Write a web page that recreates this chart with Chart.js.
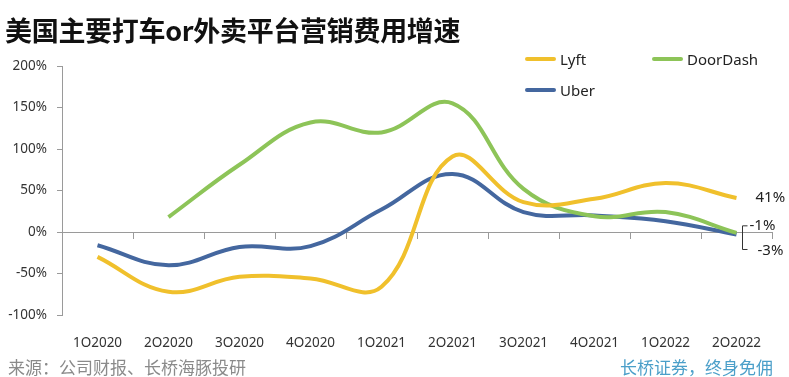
<!DOCTYPE html>
<html>
<head>
<meta charset="utf-8">
<script src="https://cdn.jsdelivr.net/npm/chart.js@4"></script>
<style>
    body { margin: 0; background: #fff; }
    #wrap { position: relative; width: 789px; height: 377px; overflow: hidden; font-family: "Noto Sans", "Noto Sans CJK SC", sans-serif; }
    #wrap canvas { position: absolute; left: 0; top: 0; }
    .title { position: absolute; left: 5px; top: 10px; font-size: 27px; font-weight: 700; color: #111; font-family: "Noto Sans CJK SC", sans-serif; letter-spacing: -0.3px; }
    .legend { position: absolute; font-size: 15px; color: #222; display: flex; align-items: center; }
    .legend i { display: inline-block; width: 31px; height: 4px; border-radius: 2px; margin-right: 4px; }
    .foot { position: absolute; top: 354px; font-size: 17px; font-family: "Noto Sans CJK SC", sans-serif; }
</style>
</head>
<body>
<div id="wrap">
    <canvas id="chart" width="789" height="377"></canvas>
    <div class="title">美国主要打车or外卖平台营销费用增速</div>
    <div class="legend" style="left:525px; top:49px;"><i style="background:#f0c02c"></i>Lyft</div>
    <div class="legend" style="left:652px; top:49px;"><i style="background:#8dc458"></i>DoorDash</div>
    <div class="legend" style="left:525px; top:80px;"><i style="background:#44679f"></i>Uber</div>
    <div class="foot" style="left:8px; color:#8a8a8a;">来源：公司财报、长桥海豚投研</div>
    <div class="foot" style="left:620px; color:#4b9fc9;">长桥证券，终身免佣</div>
</div>
<script>
// 季度 & 各平台营销费用同比增速（%）
const quarters = ['1Q2020', '2Q2020', '3Q2020', '4Q2020', '1Q2021', '2Q2021', '3Q2021', '4Q2021', '1Q2022', '2Q2022'];
const lyft = [-30, -72, -54, -56, -66, 91, 36, 40, 59, 41];
const doorDash = [null, 18, 81, 132, 120, 155, 52, 19, 24, -1];
const uber = [-16, -40, -18, -17, 27, 70, 24, 20, 13, -3];
const yTicks = [-100, -50, 0, 50, 100, 150, 200];

const COLORS = { lyft: '#f0c02c', doorDash: '#8dc458', uber: '#44679f' };

// 末端数据标签：41% / -1% / -3%
const endLabels = {
    id: 'endLabels',
    afterDatasetsDraw(chart) {
        const { ctx } = chart;
        const x = chart.scales.x;
        const y = chart.scales.y;
        const last = quarters.length - 1;
        const px = x.getPixelForValue(last);
        ctx.save();
        ctx.font = '15px "Noto Sans", sans-serif';
        ctx.fillStyle = '#222';
        ctx.textBaseline = 'middle';
        ctx.fillText(lyft[last] + '%', px + 19, y.getPixelForValue(lyft[last]));

        const yTop = y.getPixelForValue(doorDash[last]) - 7;
        const yBot = y.getPixelForValue(uber[last]) + 15;
        const bx = px + 6;
        ctx.strokeStyle = '#333';
        ctx.lineWidth = 1;
        ctx.beginPath();
        ctx.moveTo(bx + 5, yTop);
        ctx.lineTo(bx, yTop);
        ctx.lineTo(bx, yBot);
        ctx.lineTo(bx + 5, yBot);
        ctx.stroke();
        ctx.fillText(doorDash[last] + '%', bx + 7, yTop);
        ctx.fillText(uber[last] + '%', bx + 15, yBot + 1);
        ctx.restore();
    }
};

function lineSet(label, data, color) {
    return {
        label,
        data,
        borderColor: color,
        backgroundColor: color,
        borderWidth: 4,
        pointRadius: 0,
        tension: 0.4,
        fill: false
    };
}

new Chart(document.getElementById('chart').getContext('2d'), {
    type: 'line',
    data: {
        labels: quarters,
        datasets: [
            lineSet('Lyft', lyft, COLORS.lyft),
            lineSet('DoorDash', doorDash, COLORS.doorDash),
            lineSet('Uber', uber, COLORS.uber)
        ]
    },
    options: {
        responsive: false,
        animation: false,
        layout: { padding: { top: 66, right: 17, bottom: 30, left: 0 } },
        plugins: { legend: { display: false }, tooltip: { enabled: false } },
        scales: {
            x: {
                position: 'bottom',
                offset: true,
                grid: { display: false },
                border: { display: false },
                ticks: { color: '#333', font: { size: 13.5, family: '"Noto Sans", sans-serif' }, padding: 12, maxRotation: 0 },
                afterFit(scale) { scale.height = 32; }
            },
            x2: {
                type: 'category',
                labels: quarters,
                position: { y: 0 },
                offset: true,
                grid: { offset: true, drawOnChartArea: false, drawTicks: true, tickLength: 6, color: '#9a9a9a' },
                border: { display: true, color: '#9a9a9a', width: 1 },
                ticks: { display: false }
            },
            y: {
                min: -100,
                max: 200,
                afterBuildTicks(scale) { scale.ticks = yTicks.map(v => ({ value: v })); },
                grid: { drawOnChartArea: false, drawTicks: true, tickLength: 5, color: '#9a9a9a' },
                border: { display: true, color: '#9a9a9a', width: 1 },
                ticks: { color: '#333', font: { size: 13.5, family: '"Noto Sans", sans-serif' }, padding: 10, callback: v => v + '%' },
                afterFit(scale) { scale.width = 62; }
            }
        }
    },
    plugins: [endLabels]
});
</script>
</body>
</html>
